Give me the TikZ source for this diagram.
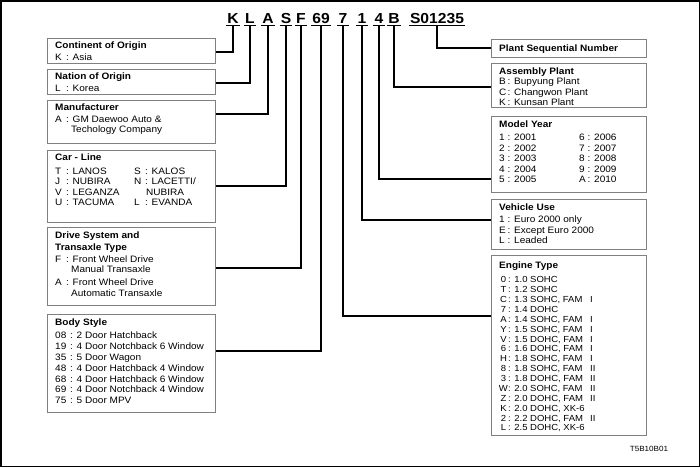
\documentclass[tikz,border=0pt]{standalone}
\usepackage{fontspec}
\setmainfont{Liberation Sans}[FakeStretch=1.08]
\usetikzlibrary{calc}
\newcommand\codeL[1]{\makebox[11pt][l]{#1}}
\newcommand\codeB[1]{\makebox[15pt][l]{#1}}
\newcommand\codeR[1]{\makebox[8.5pt][l]{#1}}
\newcommand\codeE[1]{\makebox[8.5pt][c]{#1}\hspace{0.5pt}}
\begin{document}
\begin{tikzpicture}[x=1pt,y=-1pt,
  box/.style={draw=black!50, line width=0.8pt, anchor=north west, inner sep=0pt},
  conn/.style={draw=black, line width=1.4pt},
  vin/.style={font=\fontsize{14.5}{16}\selectfont\bfseries, anchor=base, inner xsep=1pt, inner ysep=2.5pt},
  uline/.style={draw=black, line width=1pt},
  txt/.style={anchor=base west, inner sep=0pt, font=\fontsize{9.3}{10.5}\selectfont},
  frame/.style={draw=black, line width=1.5pt},
]
\useasboundingbox (0,0) rectangle (700,467);
\draw[frame] (0.75,0.75) rectangle (699.25,466.25);

% VIN characters
\node[vin] (vK) at (233,23) {K};
\node[vin] (vL) at (250,23) {L};
\node[vin] (vA) at (268,23) {A};
\node[vin] (vS) at (286,23) {S};
\node[vin] (vF) at (301,23) {F};
\node[vin] (v69) at (321,23) {69};
\node[vin] (v7) at (343,23) {7};
\node[vin] (v1) at (362,23) {1};
\node[vin] (v4) at (379,23) {4};
\node[vin] (vB) at (394,23) {B};
\node[vin] (vSN) at (437,23) {S01235};
\foreach \n in {vK,vL,vA,vS,vF,v69,v7,v1,v4,vB,vSN}
  \draw[uline] (\n.south west) -- (\n.south east);

% left boxes
\node[box,minimum width=168pt,minimum height=25pt] (cont) at (47,38) {};
\node[box,minimum width=168pt,minimum height=25pt] (nat) at (47,69) {};
\node[box,minimum width=168pt,minimum height=43pt] (mfr) at (47,100) {};
\node[box,minimum width=168pt,minimum height=72pt] (car) at (47,150) {};
\node[box,minimum width=168pt,minimum height=78pt] (drv) at (47,227) {};
\node[box,minimum width=168pt,minimum height=98pt] (body) at (47,314) {};

% right boxes
\node[box,minimum width=155pt,minimum height=18pt] (plant) at (491,39) {};
\node[box,minimum width=155pt,minimum height=44pt] (asm) at (491,63) {};
\node[box,minimum width=155pt,minimum height=76pt] (year) at (491,116) {};
\node[box,minimum width=155pt,minimum height=50pt] (use) at (491,199) {};
\node[box,minimum width=155pt,minimum height=180pt] (eng) at (491,255) {};

% left texts
\node[txt] (contT) at (55,48) {\begin{tabular}[t]{@{}l@{}}
\bfseries Continent of Origin\\[1.5pt]
\codeL{K}: Asia\end{tabular}};
\node[txt] (natT) at (55,79) {\begin{tabular}[t]{@{}l@{}}
\bfseries Nation of Origin\\[1.5pt]
\codeL{L}: Korea\end{tabular}};
\node[txt] (mfrT) at (55,110) {\begin{tabular}[t]{@{}l@{}}
\bfseries Manufacturer\\[1.5pt]
\codeL{A}: GM Daewoo Auto \&\\
\codeL{}\hspace{5pt}Techology Company\end{tabular}};
\node[txt] (carT) at (55,160) {\begin{tabular}[t]{@{}p{79pt}@{}l@{}}
\multicolumn{2}{@{}l@{}}{\bfseries Car - Line}\\[3.5pt]
\codeL{T}: LANOS & \codeL{S}: KALOS\\
\codeL{J}: NUBIRA & \codeL{N}: LACETTI/\\
\codeL{V}: LEGANZA & \codeL{}\hspace{1pt}NUBIRA\\
\codeL{U}: TACUMA & \codeL{L}: EVANDA\end{tabular}};
\node[txt] (drvT) at (55,238) {\begin{tabular}[t]{@{}l@{}}
\bfseries Drive System and\\[1.5pt]
\bfseries Transaxle Type\\[1.5pt]
\codeL{F}: Front Wheel Drive\\
\codeL{}\hspace{5pt}Manual Transaxle\\[2.5pt]
\codeL{A}: Front Wheel Drive\\
\codeL{}\hspace{5pt}Automatic Transaxle\end{tabular}};
\node[txt, font=\fontsize{9.3}{10.8}\selectfont] (bodyT) at (55,325) {\begin{tabular}[t]{@{}l@{}}
\bfseries Body Style\\[3pt]
\codeB{08}: 2 Door Hatchback\\
\codeB{19}: 4 Door Notchback 6 Window\\
\codeB{35}: 5 Door Wagon\\
\codeB{48}: 4 Door Hatchback 4 Window\\
\codeB{68}: 4 Door Hatchback 6 Window\\
\codeB{69}: 4 Door Notchback 4 Window\\
\codeB{75}: 5 Door MPV\end{tabular}};

% right texts
\node[txt] (plantT) at (499,51) {\bfseries Plant Sequential Number};
\node[txt] (asmT) at (499,74) {\begin{tabular}[t]{@{}l@{}}
\bfseries Assembly Plant\\
\codeR{B}: Bupyung Plant\\
\codeR{C}: Changwon Plant\\
\codeR{K}: Kunsan Plant\end{tabular}};
\node[txt] (yearT) at (499,127) {\begin{tabular}[t]{@{}p{80pt}@{}l@{}}
\multicolumn{2}{@{}l@{}}{\bfseries Model Year}\\[3pt]
\codeR{1}: 2001 & \codeR{6}: 2006\\
\codeR{2}: 2002 & \codeR{7}: 2007\\
\codeR{3}: 2003 & \codeR{8}: 2008\\
\codeR{4}: 2004 & \codeR{9}: 2009\\
\codeR{5}: 2005 & \codeR{A}: 2010\end{tabular}};
\node[txt] (useT) at (499,210) {\begin{tabular}[t]{@{}l@{}}
\bfseries Vehicle Use\\[2pt]
\codeR{1}: Euro 2000 only\\
\codeR{E}: Except Euro 2000\\
\codeR{L}: Leaded\end{tabular}};
\node[txt, font=\fontsize{8.8}{9.87}\selectfont] (engT) at (499,268) {\begin{tabular}[t]{@{}p{91pt}@{}l@{}}
\multicolumn{2}{@{}l@{}}{\fontsize{9.3}{9.87}\selectfont\bfseries Engine Type}\\[5pt]
\codeE{0}: 1.0 SOHC & \\
\codeE{T}: 1.2 SOHC & \\
\codeE{C}: 1.3 SOHC, FAM & I\\
\codeE{7}: 1.4 DOHC & \\
\codeE{A}: 1.4 SOHC, FAM & I\\
\codeE{Y}: 1.5 SOHC, FAM & I\\
\codeE{V}: 1.5 DOHC, FAM & I\\
\codeE{6}: 1.6 DOHC, FAM & I\\
\codeE{H}: 1.8 SOHC, FAM & I\\
\codeE{8}: 1.8 SOHC, FAM & II\\
\codeE{3}: 1.8 DOHC, FAM & II\\
\codeE{W}: 2.0 SOHC, FAM & II\\
\codeE{Z}: 2.0 DOHC, FAM & II\\
\codeE{K}: 2.0 DOHC, XK-6 & \\
\codeE{2}: 2.2 DOHC, FAM & II\\
\codeE{L}: 2.5 DOHC, XK-6 & \end{tabular}};

\node[font=\fontsize{7.5}{8}\selectfont, inner sep=0pt] (ref) at (649,449) {T5B10B01};

% connectors
\draw[conn] (vK.south) |- ([yshift=-14pt]cont.north east);
\draw[conn] (vL.south) |- ([yshift=-14pt]nat.north east);
\draw[conn] (vA.south) |- ([yshift=-14pt]mfr.north east);
\draw[conn] (vS.south) |- ([yshift=-36pt]car.north east);
\draw[conn] (vF.south) |- ([yshift=-41pt]drv.north east);
\draw[conn] (v69.south) |- ([yshift=-37pt]body.north east);
\draw[conn] (v7.south) |- ([yshift=-61pt]eng.north west);
\draw[conn] (v1.south) |- ([yshift=-21pt]use.north west);
\draw[conn] (v4.south) |- ([yshift=-63pt]year.north west);
\draw[conn] (vB.south) |- ([yshift=-24pt]asm.north west);
\draw[conn] (vSN.south) |- ([yshift=-9pt]plant.north west);
\end{tikzpicture}
\end{document}
